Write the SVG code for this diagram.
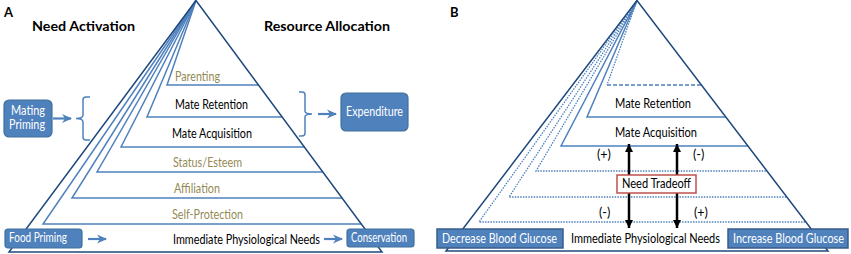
<svg xmlns="http://www.w3.org/2000/svg" width="851" height="254" viewBox="0 0 851 254">
<defs>
<style>
.t{font-family:Lato,"Open Sans","Liberation Sans",sans-serif;font-size:12.5px;fill:#000}
.ol{fill:#948A54}
.w{fill:#fff}
.h{font-weight:bold;font-size:14px}
.lab{font-weight:bold;font-size:13px}
.outer{fill:none;stroke:#1F497D;stroke-width:1.5;stroke-linejoin:miter}
.lay{fill:none;stroke:#4F81BD;stroke-width:1.5}
.dot{fill:none;stroke:#4F81BD;stroke-width:1.3;stroke-dasharray:1.5 1.2}
.dash{fill:none;stroke:#4F81BD;stroke-width:1.3;stroke-dasharray:4 2}
.box{fill:#4F81BD;stroke:#41719C;stroke-width:1.2}
.bbox{fill:#4F81BD;stroke:#385D8A;stroke-width:1.5}
.ba{stroke:#4F81BD;stroke-width:2.2;fill:none;marker-end:url(#bh)}
.ka{stroke:#000;stroke-width:2.5;fill:none;marker-start:url(#kh);marker-end:url(#kh)}
.br{fill:none;stroke:#4F81BD;stroke-width:1.5}
</style>
<marker id="bh" viewBox="0 0 10 10" refX="9" refY="5" markerUnits="userSpaceOnUse" markerWidth="10" markerHeight="10" orient="auto"><path d="M0,0.5 L10,5 L0,9.5 L3,5 z" fill="#4F81BD"/></marker>
<marker id="kh" viewBox="0 0 10 10" refX="10" refY="5" markerUnits="userSpaceOnUse" markerWidth="8" markerHeight="9" orient="auto-start-reverse"><path d="M0,0 L10,5 L0,10 z" fill="#000"/></marker>
</defs>
<rect width="851" height="254" fill="#fff"/>

<!-- Panel A -->
<g id="panelA-labels">
<text class="t lab" x="4" y="17">A</text>
<text class="t h" x="32" y="31" textLength="103" lengthAdjust="spacingAndGlyphs">Need Activation</text>
<text class="t h" x="264" y="31" textLength="126" lengthAdjust="spacingAndGlyphs">Resource Allocation</text>
</g>
<g id="A-pyramid">
<path class="lay" d="M196,0.5 L167,85 L258.7,85"/>
<path class="lay" d="M196,0.5 L147,117 L282.4,117"/>
<path class="lay" d="M196,0.5 L121,147 L304.5,147"/>
<path class="lay" d="M196,0.5 L97,172 L323,172"/>
<path class="lay" d="M196,0.5 L72,198 L342.1,198"/>
<path class="lay" d="M196,0.5 L43,224 L361.3,224"/>
<path class="outer" d="M196,0.5 L9,252 L382,252 Z"/>
</g>
<g id="A-parenting"><text class="t ol" x="175" y="81" textLength="45" lengthAdjust="spacingAndGlyphs">Parenting</text></g>
<g id="A-mate-retention"><text class="t" x="175" y="109" textLength="73" lengthAdjust="spacingAndGlyphs">Mate Retention</text></g>
<g id="A-mate-acquisition"><text class="t" x="172" y="138" textLength="80" lengthAdjust="spacingAndGlyphs">Mate Acquisition</text></g>
<g id="A-status"><text class="t ol" x="173" y="167" textLength="69" lengthAdjust="spacingAndGlyphs">Status/Esteem</text></g>
<g id="A-affiliation"><text class="t ol" x="174" y="193" textLength="46" lengthAdjust="spacingAndGlyphs">Affiliation</text></g>
<g id="A-selfprotection"><text class="t ol" x="172" y="219" textLength="71" lengthAdjust="spacingAndGlyphs">Self-Protection</text></g>
<g id="A-immediate"><text class="t" x="173" y="244" textLength="147" lengthAdjust="spacingAndGlyphs">Immediate Physiological Needs</text></g>

<g id="A-mating-priming">
<rect class="box" x="4" y="100" width="48" height="37" rx="5"/>
<text class="t w" x="28" y="114.5" text-anchor="middle" font-size="11.5" textLength="34" lengthAdjust="spacingAndGlyphs">Mating</text>
<text class="t w" x="27" y="128.5" text-anchor="middle" font-size="11.5" textLength="36" lengthAdjust="spacingAndGlyphs">Priming</text>
</g>
<g id="A-expenditure">
<rect class="box" x="341" y="93" width="67" height="38" rx="5"/>
<text class="t w" x="374.5" y="116" text-anchor="middle" textLength="57" lengthAdjust="spacingAndGlyphs">Expenditure</text>
</g>
<g id="A-food-priming">
<rect class="box" x="5" y="229" width="77" height="19" rx="3"/>
<text class="t w" x="9" y="242" textLength="58" lengthAdjust="spacingAndGlyphs">Food Priming</text>
</g>
<g id="A-conservation">
<rect class="box" x="347" y="229" width="67" height="18" rx="3"/>
<text class="t w" x="351" y="242" textLength="56" lengthAdjust="spacingAndGlyphs">Conservation</text>
</g>
<g id="A-braces">
<path class="br" d="M90,97 L86,97 Q83,97 83,100 L83,115 Q83,118.5 76,118.5 Q83,118.5 83,122 L83,137 Q83,140 86,140 L90,140"/>
<path class="br" d="M299,92 L302,92 Q305,92 305,95 L305,111 Q305,114 312,114 Q305,114 305,117 L305,133 Q305,136 302,136 L299,136"/>
</g>

<!-- Panel B -->
<g id="panelB-label"><text class="t lab" x="450" y="17">B</text></g>
<g id="B-pyramid">
<path class="dash" d="M607,85 L701.7,85"/>
<path class="dot" d="M637,0.5 L607,85"/>
<path class="lay" d="M637,0.5 L587,117 L726,117"/>
<path class="lay" d="M637,0.5 L561,146 L748,146"/>
<path class="dot" d="M637,0.5 L536,171 L767,171"/>
<path class="dot" d="M637,0.5 L509,197 L787,197"/>
<path class="dot" d="M637,0.5 L479,222 L806,222"/>
<path class="outer" d="M637,0.5 L446,251 L828,251 Z"/>
</g>
<g id="B-mate-retention"><text class="t" x="615" y="108" textLength="76" lengthAdjust="spacingAndGlyphs">Mate Retention</text></g>
<g id="B-mate-acquisition"><text class="t" x="615" y="137" textLength="82" lengthAdjust="spacingAndGlyphs">Mate Acquisition</text></g>
<g id="B-immediate"><text class="t" x="571" y="243" textLength="149" lengthAdjust="spacingAndGlyphs">Immediate Physiological Needs</text></g>

<g id="connectors">
<line class="ba" x1="53" y1="118.5" x2="71" y2="118.5"/>
<line class="ba" x1="318" y1="114" x2="336" y2="114"/>
<line class="ba" x1="88" y1="239" x2="106" y2="239"/>
<line class="ba" x1="324" y1="239" x2="342" y2="239"/>
<line class="ka" x1="629" y1="144" x2="629" y2="228"/>
<line class="ka" x1="677" y1="144" x2="677" y2="228"/>
</g>

<g id="B-need-tradeoff">
<rect x="617" y="175" width="79" height="18" fill="#fff" stroke="#C0504D" stroke-width="1.5"/>
<text class="t" x="622" y="188" textLength="69" lengthAdjust="spacingAndGlyphs">Need Tradeoff</text>
</g>
<g id="B-signs">
<text class="t" x="597" y="159" font-size="11.5">(+)</text>
<text class="t" x="693" y="159" font-size="11.5">(-)</text>
<text class="t" x="599" y="217" font-size="11.5">(-)</text>
<text class="t" x="694" y="217" font-size="11.5">(+)</text>
</g>
<g id="B-decrease">
<rect class="bbox" x="437" y="229" width="126" height="19"/>
<text class="t w" x="442" y="243" font-size="12" textLength="115" lengthAdjust="spacingAndGlyphs">Decrease Blood Glucose</text>
</g>
<g id="B-increase">
<rect class="bbox" x="728" y="229" width="120" height="19"/>
<text class="t w" x="844" y="243" font-size="12" text-anchor="end" textLength="111" lengthAdjust="spacingAndGlyphs">Increase Blood Glucose</text>
</g>
</svg>
